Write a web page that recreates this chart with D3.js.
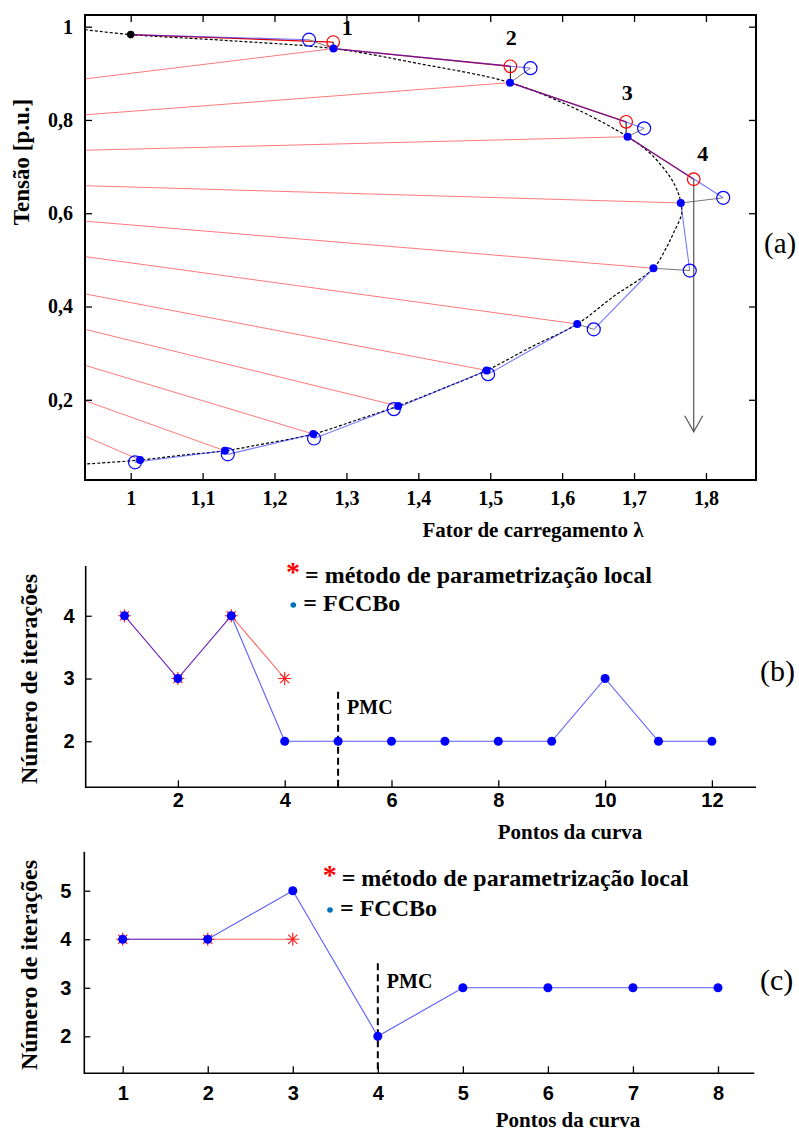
<!DOCTYPE html>
<html><head><meta charset="utf-8">
<script src="https://cdn.jsdelivr.net/npm/d3@7"></script>
<style>body{margin:0;background:#fff}</style>
</head><body>
<svg id="c" width="799" height="1132"></svg>
<script>
// ================= DATA =================
// Chart (a)
const xTicksA = [1.0, 1.1, 1.2, 1.3, 1.4, 1.5, 1.6, 1.7, 1.8];
const yTicksA = [0.2, 0.4, 0.6, 0.8, 1.0];
const startLambda = 1.0, startV = 0.983;
const correctedLambda = [1.282, 1.5275, 1.691, 1.765, 1.727, 1.621, 1.495, 1.372, 1.254, 1.131, 1.013];
const correctedV      = [0.953, 0.880, 0.764, 0.622, 0.482, 0.3625, 0.263, 0.1866, 0.1265, 0.0907, 0.0708];
const fccboPredLambda = [1.248, 1.556, 1.714, 1.824, 1.7775, 1.644, 1.497, 1.366, 1.255, 1.135, 1.006];
const fccboPredV      = [0.972, 0.911, 0.782, 0.633, 0.477, 0.351, 0.255, 0.180, 0.117, 0.083, 0.066];
const localPredLambda = [1.2816, 1.528, 1.689, 1.783];
const localPredV      = [0.967, 0.915, 0.796, 0.673];
const localPredLabels = ["1", "2", "3", "4"];
const rayStartV = [0.888, 0.811, 0.735, 0.659, 0.583, 0.507, 0.427, 0.351, 0.274, 0.198, 0.122];
const arrowEndV = 0.1315;
const pvLambda = [0.93645, 1.0, 1.14, 1.282, 1.40, 1.5275, 1.62, 1.691, 1.722, 1.75, 1.7616, 1.765, 1.7664, 1.7547, 1.7455, 1.727, 1.671, 1.621, 1.5577, 1.495, 1.4348, 1.372, 1.3143, 1.254, 1.189, 1.131, 1.073, 1.013, 0.93645];
const pvV      = [0.9935, 0.983, 0.9697, 0.953, 0.921, 0.880, 0.823, 0.764, 0.729, 0.678, 0.643, 0.622, 0.600, 0.557, 0.528, 0.482, 0.421, 0.3625, 0.3138, 0.263, 0.2245, 0.1866, 0.1566, 0.1265, 0.1066, 0.0907, 0.0815, 0.0708, 0.0622];

// Chart (b)
const pointsB = [1, 2, 3, 4, 5, 6, 7, 8, 9, 10, 11, 12];
const localB  = [4, 3, 4, 3];
const fccboB  = [4, 3, 4, 2, 2, 2, 2, 2, 2, 3, 2, 2];
const xTicksB = [2, 4, 6, 8, 10, 12];
const yTicksB = [2, 3, 4];
const pmcB = 5, pmcTopB = 2.79;

// Chart (c)
const pointsC = [1, 2, 3, 4, 5, 6, 7, 8];
const localC  = [4, 4, 4];
const fccboC  = [4, 4, 5, 2, 3, 3, 3, 3];
const xTicksC = [1, 2, 3, 4, 5, 6, 7, 8];
const yTicksC = [2, 3, 4, 5];
const pmcC = 4, pmcTopC = 3.504;

const legendLocal = "= método de parametrização local";
const legendFccbo = "= FCCBo";

// ================= DRAW =================
const SERIF = "'Liberation Serif','Times New Roman',serif";
const SANS = "'Liberation Sans',Arial,sans-serif";
const svg = d3.select("#c");
svg.append("rect").attr("width", 799).attr("height", 1132).attr("fill", "#fff");
const defs = svg.append("defs");

const fmtComma = d => d3.format(".1f")(d).replace(".", ",").replace(/,0$/, "");

// ---------- chart (a) ----------
const A = {l: 85, t: 15, r: 756, b: 480};
const xA = d3.scaleLinear().domain([0.93645, 1.8696]).range([A.l, A.r]);
const yA = d3.scaleLinear().domain([0.028, 1.025]).range([A.b, A.t]);
defs.append("clipPath").attr("id", "clipA").append("rect")
  .attr("x", A.l).attr("y", A.t).attr("width", A.r - A.l).attr("height", A.b - A.t);
const gA = svg.append("g");
const plotA = gA.append("g").attr("clip-path", "url(#clipA)");

// rays
rayStartV.forEach((v, i) => {
  plotA.append("line")
    .attr("x1", xA(xA.domain()[0])).attr("y1", yA(v))
    .attr("x2", xA(correctedLambda[i])).attr("y2", yA(correctedV[i]))
    .attr("stroke", "#ff4040").attr("stroke-opacity", 0.7).attr("stroke-width", 1);
});

// PV curve
const pvLine = d3.line().x(d => xA(d[0])).y(d => yA(d[1])).curve(d3.curveCatmullRom.alpha(0.5));
plotA.append("path").datum(d3.zip(pvLambda, pvV)).attr("d", pvLine)
  .attr("fill", "none").attr("stroke", "#000").attr("stroke-width", 1.2).attr("stroke-dasharray", "3,2");

const prevLambda = [startLambda].concat(correctedLambda.slice(0, -1));
const prevV = [startV].concat(correctedV.slice(0, -1));

// red predictor (local parametrization)
localPredLambda.forEach((l, k) => {
  plotA.append("line").attr("x1", xA(prevLambda[k])).attr("y1", yA(prevV[k]))
    .attr("x2", xA(l)).attr("y2", yA(localPredV[k]))
    .attr("stroke", "#e00000").attr("stroke-width", 1.3);
});
// blue predictor (FCCBo)
fccboPredLambda.forEach((l, k) => {
  plotA.append("line").attr("x1", xA(prevLambda[k])).attr("y1", yA(prevV[k]))
    .attr("x2", xA(l)).attr("y2", yA(fccboPredV[k]))
    .attr("stroke", "#2020ff").attr("stroke-opacity", 0.6).attr("stroke-width", 1.1);
  // grey corrector
  plotA.append("line").attr("x1", xA(l)).attr("y1", yA(fccboPredV[k]))
    .attr("x2", xA(correctedLambda[k])).attr("y2", yA(correctedV[k]))
    .attr("stroke", "#777").attr("stroke-width", 1);
});
// black vertical corrector (local)
localPredLambda.slice(0, 3).forEach((l, k) => {
  plotA.append("line").attr("x1", xA(l)).attr("y1", yA(localPredV[k]))
    .attr("x2", xA(l)).attr("y2", yA(correctedV[k]))
    .attr("stroke", "#000").attr("stroke-width", 1);
});
// arrow (divergence) from 4th local predictor
{
  const ax = xA(localPredLambda[3]);
  const ay0 = yA(localPredV[3]), ay1 = yA(arrowEndV);
  plotA.append("line").attr("x1", ax).attr("y1", ay0).attr("x2", ax).attr("y2", ay1)
    .attr("stroke", "#555").attr("stroke-width", 1.2);
  plotA.append("path").attr("d", `M${ax - 9},${ay1 - 16}L${ax},${ay1}L${ax + 9},${ay1 - 16}`)
    .attr("fill", "none").attr("stroke", "#555").attr("stroke-width", 1.2);
}
// markers
plotA.selectAll(".rc").data(d3.zip(localPredLambda, localPredV)).join("circle")
  .attr("cx", d => xA(d[0])).attr("cy", d => yA(d[1])).attr("r", 6.3)
  .attr("fill", "none").attr("stroke", "#ff0000").attr("stroke-width", 1.2);
plotA.selectAll(".bc").data(d3.zip(fccboPredLambda, fccboPredV)).join("circle")
  .attr("cx", d => xA(d[0])).attr("cy", d => yA(d[1])).attr("r", 6.5)
  .attr("fill", "none").attr("stroke", "#0000ff").attr("stroke-width", 1.2);
plotA.selectAll(".bd").data(d3.zip(correctedLambda, correctedV)).join("circle")
  .attr("cx", d => xA(d[0])).attr("cy", d => yA(d[1])).attr("r", 4)
  .attr("fill", "#0000ff");
plotA.append("circle").attr("cx", xA(startLambda)).attr("cy", yA(startV)).attr("r", 3.8).attr("fill", "#000");

// step labels
const labOff = [[14, -7], [1, -21], [1, -22], [9, -18]];
localPredLabels.forEach((t, k) => {
  gA.append("text").attr("x", xA(localPredLambda[k]) + labOff[k][0]).attr("y", yA(localPredV[k]) + labOff[k][1])
    .attr("text-anchor", "middle").attr("font-family", SERIF).attr("font-weight", "bold")
    .attr("font-size", 22).text(t);
});

// axes (a)
function styleAxis(g, size, family) {
  g.select(".domain").remove();
  g.selectAll(".tick line").attr("stroke", "#000").attr("stroke-width", 1.3);
  g.selectAll(".tick text").attr("font-family", family).attr("font-weight", "bold")
    .attr("font-size", size).attr("fill", "#000");
}
gA.append("g").attr("transform", `translate(0,${A.b})`)
  .call(d3.axisBottom(xA).tickValues(xTicksA).tickSizeInner(-7).tickSizeOuter(0).tickPadding(11).tickFormat(fmtComma))
  .call(g => styleAxis(g, 20, SERIF));
gA.append("g").attr("transform", `translate(0,${A.t})`)
  .call(d3.axisTop(xA).tickValues(xTicksA).tickSizeInner(-7).tickSizeOuter(0).tickFormat(""))
  .call(g => styleAxis(g, 20, SERIF));
gA.append("g").attr("transform", `translate(${A.l},0)`)
  .call(d3.axisLeft(yA).tickValues(yTicksA).tickSizeInner(-7).tickSizeOuter(0).tickPadding(12).tickFormat(fmtComma))
  .call(g => styleAxis(g, 20, SERIF));
gA.append("g").attr("transform", `translate(${A.r},0)`)
  .call(d3.axisRight(yA).tickValues(yTicksA).tickSizeInner(-7).tickSizeOuter(0).tickFormat(""))
  .call(g => styleAxis(g, 20, SERIF));
gA.append("rect").attr("x", A.l).attr("y", A.t).attr("width", A.r - A.l).attr("height", A.b - A.t)
  .attr("fill", "none").attr("stroke", "#000").attr("stroke-width", 2);

gA.append("text").attr("x", 533).attr("y", 537).attr("text-anchor", "middle")
  .attr("font-family", SERIF).attr("font-weight", "bold").attr("font-size", 21).text("Fator de carregamento λ");
gA.append("text").attr("transform", "translate(29,162) rotate(-90)").attr("text-anchor", "middle")
  .attr("font-family", SERIF).attr("font-weight", "bold").attr("font-size", 23).text("Tensão [p.u.]");
gA.append("text").attr("x", 764).attr("y", 253).attr("font-family", SERIF).attr("font-size", 29).text("(a)");

// ---------- iteration charts ----------
function starPath(cx, cy) {
  const a = 6.5, d = 4.6;
  return `M${cx},${cy - a}L${cx},${cy + a}M${cx - a},${cy}L${cx + a},${cy}` +
         `M${cx - d},${cy - d}L${cx + d},${cy + d}M${cx - d},${cy + d}L${cx + d},${cy - d}`;
}

function drawIter(cfg) {
  const g = svg.append("g");
  const x = d3.scaleLinear().domain(cfg.xDom).range([cfg.l, cfg.r]);
  const y = d3.scaleLinear().domain(cfg.yDom).range([cfg.b, cfg.t]);
  // axes
  g.append("g").attr("transform", `translate(0,${cfg.b})`)
    .call(d3.axisBottom(x).tickValues(cfg.xTicks).tickSizeInner(-7).tickSizeOuter(0).tickPadding(cfg.xPad).tickFormat(d3.format("d")))
    .call(s => styleAxis(s, 20, SANS));
  g.append("g").attr("transform", `translate(${cfg.l},0)`)
    .call(d3.axisLeft(y).tickValues(cfg.yTicks).tickSizeInner(-6).tickSizeOuter(0).tickPadding(cfg.yPad).tickFormat(d3.format("d")))
    .call(s => styleAxis(s, 20, SANS));
  g.append("path").attr("d", `M${cfg.l},${cfg.t}L${cfg.l},${cfg.b}L${cfg.r},${cfg.b}`)
    .attr("fill", "none").attr("stroke", "#000").attr("stroke-width", 1.6);

  // PMC
  g.append("line").attr("x1", x(cfg.pmc)).attr("x2", x(cfg.pmc)).attr("y1", y(cfg.pmcTop)).attr("y2", cfg.b)
    .attr("stroke", "#000").attr("stroke-width", 2).attr("stroke-dasharray", "7,4");
  g.append("text").attr("x", x(cfg.pmc) + 9).attr("y", y(cfg.pmcTop) + cfg.pmcDy)
    .attr("font-family", SERIF).attr("font-weight", "bold").attr("font-size", 20).text("PMC");

  const ln = d3.line().x(d => x(d[0])).y(d => y(d[1]));
  const localPts = d3.zip(cfg.points.slice(0, cfg.local.length), cfg.local);
  const fccPts = d3.zip(cfg.points, cfg.fccbo);
  g.append("path").datum(localPts).attr("d", ln).attr("fill", "none")
    .attr("stroke", "#ff3030").attr("stroke-opacity", 0.75).attr("stroke-width", 1.1);
  localPts.forEach(p => g.append("path").attr("d", starPath(x(p[0]), y(p[1])))
    .attr("stroke", "#ff2020").attr("stroke-width", 1.2).attr("fill", "none"));
  g.append("path").datum(fccPts).attr("d", ln).attr("fill", "none")
    .attr("stroke", "#0000ff").attr("stroke-opacity", 0.65).attr("stroke-width", 1.1);
  g.selectAll(".dot").data(fccPts).join("circle")
    .attr("cx", d => x(d[0])).attr("cy", d => y(d[1])).attr("r", 4.5).attr("fill", "#0000ff");

  // legend
  g.append("text").attr("x", cfg.legX1).attr("y", cfg.legY1 - 2).attr("text-anchor", "middle")
    .attr("font-family", SERIF).attr("font-weight", "bold").attr("font-size", 28).attr("fill", "#ff0000").text("*");
  g.append("text").attr("x", cfg.legX1 + 12).attr("y", cfg.legY1)
    .attr("font-family", SERIF).attr("font-weight", "bold").attr("font-size", 24).text(legendLocal);
  g.append("circle").attr("cx", cfg.legX2).attr("cy", cfg.legY2 - 6).attr("r", 2.8).attr("fill", "#0072BD");
  g.append("text").attr("x", cfg.legX2 + 10).attr("y", cfg.legY2)
    .attr("font-family", SERIF).attr("font-weight", "bold").attr("font-size", 24).text(legendFccbo);

  // titles
  g.append("text").attr("x", cfg.xTitleX).attr("y", cfg.xTitleY).attr("text-anchor", "middle")
    .attr("font-family", SERIF).attr("font-weight", "bold").attr("font-size", 21).text("Pontos da curva");
  g.append("text").attr("transform", `translate(37,${cfg.yTitleY}) rotate(-90)`).attr("text-anchor", "middle")
    .attr("font-family", SERIF).attr("font-weight", "bold").attr("font-size", 24).text("Número de iterações");
  g.append("text").attr("x", 760).attr("y", cfg.tagY).attr("font-family", SERIF).attr("font-size", 30).text(cfg.tag);
}

drawIter({
  l: 85.7, r: 756, t: 566, b: 787.3,
  xDom: [0.2734, 12.826], yDom: [1.2663, 4.793],
  xTicks: xTicksB, yTicks: yTicksB, xPad: 6, yPad: 11,
  points: pointsB, local: localB, fccbo: fccboB,
  pmc: pmcB, pmcTop: pmcTopB, pmcDy: 22,
  legX1: 293, legY1: 583, legX2: 293.3, legY2: 611,
  xTitleX: 570, xTitleY: 839, yTitleY: 679, tag: "(b)", tagY: 681
});
drawIter({
  l: 84.3, r: 754.3, t: 851.7, b: 1073.3,
  xDom: [0.5485, 8.427], yDom: [1.2376, 5.804],
  xTicks: xTicksC, yTicks: yTicksC, xPad: 13, yPad: 13,
  points: pointsC, local: localC, fccbo: fccboC,
  pmc: pmcC, pmcTop: pmcTopC, pmcDy: 25,
  legX1: 329.7, legY1: 885.7, legX2: 330, legY2: 916,
  xTitleX: 568, xTitleY: 1127, yTitleY: 965, tag: "(c)", tagY: 990
});
</script></body></html>
